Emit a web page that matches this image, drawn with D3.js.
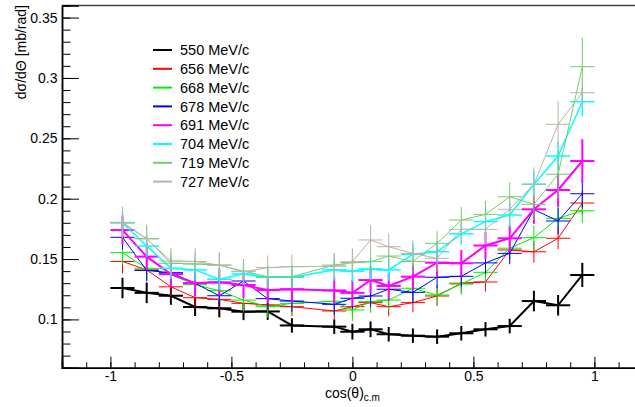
<!DOCTYPE html>
<html>
<head>
<meta charset="utf-8">
<script src="https://cdn.jsdelivr.net/npm/d3@7"></script>
<style>
  html, body { margin: 0; padding: 0; background: #fff; }
  svg { display: block; }
  text { font-family: "Liberation Sans", Arial, Helvetica, sans-serif; }
</style>
</head>
<body>
<svg id="chart" width="635" height="407"></svg>
<script>
// ---- data ----
const cosTheta = [-0.95,-0.85,-0.75,-0.65,-0.55,-0.45,-0.35,-0.25,-0.075,0,0.075,0.15,0.25,0.35,0.45,0.55,0.65,0.75,0.85,0.95];
const binHalfWidth = 0.05;
const seriesNames = ["550 MeV/c","656 MeV/c","668 MeV/c","678 MeV/c","691 MeV/c","704 MeV/c","719 MeV/c","727 MeV/c"];
const seriesColors = ["#000000","#ff0000","#00ee00","#0000ff","#ff00ff","#00ffff","#6fcf6f","#b8b4a6"];
const seriesWidths = [2,1,1,1,2,1.5,1,1];

const v550 = [0.126,0.122,0.1196,0.1103,0.1092,0.1064,0.1066,0.095,0.094,0.0898,0.0918,0.0877,0.0865,0.0857,0.0885,0.0918,0.0945,0.1152,0.1117,0.1368];
const e550 = [0.0085,0.0085,0.0075,0.0075,0.0075,0.007,0.007,0.006,0.006,0.0065,0.0065,0.006,0.006,0.006,0.006,0.006,0.006,0.0085,0.0085,0.01];
const v656 = [0.148,0.141,0.127,0.118,0.1166,0.1133,0.112,0.1105,0.107,0.1105,0.1139,0.1105,0.1139,0.1194,0.13,0.131,0.1575,0.156,0.1672,0.1964];
const e656 = [0.01,0.009,0.008,0.008,0.008,0.008,0.008,0.008,0.008,0.008,0.008,0.008,0.008,0.008,0.008,0.008,0.008,0.009,0.009,0.01];
const v668 = [0.1553,0.1423,0.137,0.1288,0.1238,0.116,0.1105,0.1133,0.115,0.1078,0.1147,0.116,0.1258,0.1202,0.1293,0.139,0.159,0.1677,0.1837,0.19];
const e668 = [0.01,0.009,0.009,0.009,0.009,0.009,0.009,0.009,0.009,0.009,0.009,0.009,0.009,0.009,0.009,0.009,0.009,0.01,0.01,0.01];
const v678 = [0.168,0.1405,0.1387,0.1299,0.1196,0.1318,0.1172,0.1152,0.1125,0.1175,0.1194,0.125,0.1224,0.1349,0.1357,0.1468,0.1547,0.191,0.1815,0.2041];
const e678 = [0.01,0.009,0.009,0.009,0.009,0.009,0.009,0.009,0.009,0.009,0.009,0.009,0.009,0.009,0.009,0.009,0.009,0.011,0.011,0.012];
const v691 = [0.174,0.152,0.1376,0.1301,0.1307,0.1285,0.1243,0.125,0.124,0.122,0.1326,0.1277,0.1354,0.147,0.1465,0.1612,0.1672,0.1912,0.2072,0.2312];
const e691 = [0.012,0.011,0.011,0.011,0.011,0.011,0.011,0.011,0.011,0.011,0.011,0.011,0.011,0.011,0.011,0.011,0.011,0.012,0.014,0.018];
const v704 = [0.18,0.1608,0.1423,0.141,0.1332,0.1376,0.1349,0.135,0.141,0.14,0.1418,0.141,0.154,0.156,0.1709,0.181,0.1865,0.212,0.2353,0.2803];
const e704 = [0.01,0.009,0.009,0.009,0.009,0.009,0.009,0.009,0.009,0.009,0.009,0.009,0.009,0.009,0.009,0.01,0.01,0.011,0.012,0.012];
const v719 = [0.18,0.167,0.1465,0.1459,0.145,0.14,0.1354,0.1354,0.145,0.147,0.1478,0.1525,0.148,0.163,0.1823,0.187,0.2016,0.1953,0.2202,0.3093];
const e719 = [0.012,0.011,0.01,0.01,0.01,0.01,0.01,0.01,0.01,0.01,0.01,0.01,0.01,0.01,0.011,0.011,0.012,0.013,0.02,0.024];
const v727 = [0.1804,0.1666,0.1484,0.148,0.145,0.1395,0.1429,0.1437,0.144,0.1478,0.1658,0.1602,0.1547,0.1506,0.1746,0.1746,0.1912,0.2119,0.2616,0.2878];
const e727 = [0.013,0.012,0.011,0.011,0.0105,0.01,0.01,0.01,0.011,0.011,0.012,0.011,0.011,0.011,0.012,0.012,0.013,0.014,0.019,0.013];

const seriesValues = [v550,v656,v668,v678,v691,v704,v719,v727];
const seriesErrors = [e550,e656,e668,e678,e691,e704,e719,e727];

const yMajorTicks = [0.1,0.15,0.2,0.25,0.3,0.35];
const yMinorTicks = d3.range(7,36).map(i => i/100);
const xMajorTicks = [-1,-0.5,0,0.5,1];
const xMinorTicks = d3.range(-12,12).map(i => i/10);

// ---- layout ----
const svg = d3.select("#chart");
const plotLeft = 62, plotBottom = 367.7, plotTop = 5.5;
const x = d3.scaleLinear().domain([-1.2,1.2]).range([plotLeft, plotLeft + 2.4*242]);
const y = d3.scaleLinear().domain([0.06,0.36]).range([plotBottom, plotTop]);

// frame top line
svg.append("line").attr("x1", plotLeft).attr("x2", 635).attr("y1", plotTop).attr("y2", plotTop)
  .attr("stroke", "#444").attr("stroke-width", 1.5);

// series
const line = d3.line().x(d => x(d[0])).y(d => y(d[1]));
seriesValues.forEach((vals, si) => {
  const col = seriesColors[si], w = seriesWidths[si];
  const g = svg.append("g");
  const pts = cosTheta.map((c,i) => [c, vals[i], seriesErrors[si][i]]);
  g.append("path").datum(pts).attr("d", line).attr("fill","none")
    .attr("stroke", col).attr("stroke-width", w);
  g.selectAll("line.h").data(pts).enter().append("line")
    .attr("x1", d => x(d[0]-binHalfWidth)).attr("x2", d => x(d[0]+binHalfWidth))
    .attr("y1", d => y(d[1])).attr("y2", d => y(d[1]))
    .attr("stroke", col).attr("stroke-width", w);
  g.selectAll("line.v").data(pts).enter().append("line")
    .attr("x1", d => x(d[0])).attr("x2", d => x(d[0]))
    .attr("y1", d => y(d[1]-d[2])).attr("y2", d => y(d[1]+d[2]))
    .attr("stroke", col).attr("stroke-width", w);
});

// axes
const yAxis = svg.append("g").attr("transform", `translate(${plotLeft},0)`)
  .call(d3.axisLeft(y).tickValues(yMajorTicks).tickSize(-17).tickPadding(4.5)
    .tickFormat(d => String(+d.toFixed(2))));
const yMinor = svg.append("g").attr("transform", `translate(${plotLeft},0)`)
  .call(d3.axisLeft(y).tickValues(yMinorTicks).tickSize(-8.5).tickFormat(""));
const xAxis = svg.append("g").attr("transform", `translate(0,${plotBottom})`)
  .call(d3.axisBottom(x).tickValues(xMajorTicks).tickSize(-11).tickPadding(3.5)
    .tickFormat(d => String(d)));
const xMinor = svg.append("g").attr("transform", `translate(0,${plotBottom})`)
  .call(d3.axisBottom(x).tickValues(xMinorTicks).tickSize(-5.5).tickFormat(""));
[yAxis,yMinor,xAxis,xMinor].forEach(a => {
  a.selectAll("path.domain").attr("stroke","#000").attr("stroke-width",1.5);
  a.selectAll(".tick line").attr("stroke","#000").attr("stroke-width",1);
  a.selectAll("text").attr("font-size", 14).attr("fill","#000")
    .attr("font-family", '"Liberation Sans", Arial, sans-serif');
});

// axis titles
const xt = svg.append("text").attr("x", x(0)).attr("y", 398).attr("text-anchor","middle")
  .attr("font-size", 14).attr("fill","#000");
xt.append("tspan").text("cos(θ)");
xt.append("tspan").attr("font-size", 10).attr("dy", 3).text("c.m");

svg.append("text").attr("transform", "translate(26,5) rotate(-90)")
  .attr("text-anchor","end").attr("font-size", 14).attr("fill","#000")
  .text("dσ/dΘ [mb/rad]");

// legend
const legY0 = 50, legDy = 18.8;
seriesNames.forEach((name, i) => {
  const yy = legY0 + i*legDy;
  svg.append("line").attr("x1",153).attr("x2",172).attr("y1",yy).attr("y2",yy)
    .attr("stroke", seriesColors[i]).attr("stroke-width", 2);
  svg.append("text").attr("x",180).attr("y",yy).attr("dy","0.36em")
    .attr("font-size",14.5).attr("fill","#000").text(name);
});
</script>
</body>
</html>
